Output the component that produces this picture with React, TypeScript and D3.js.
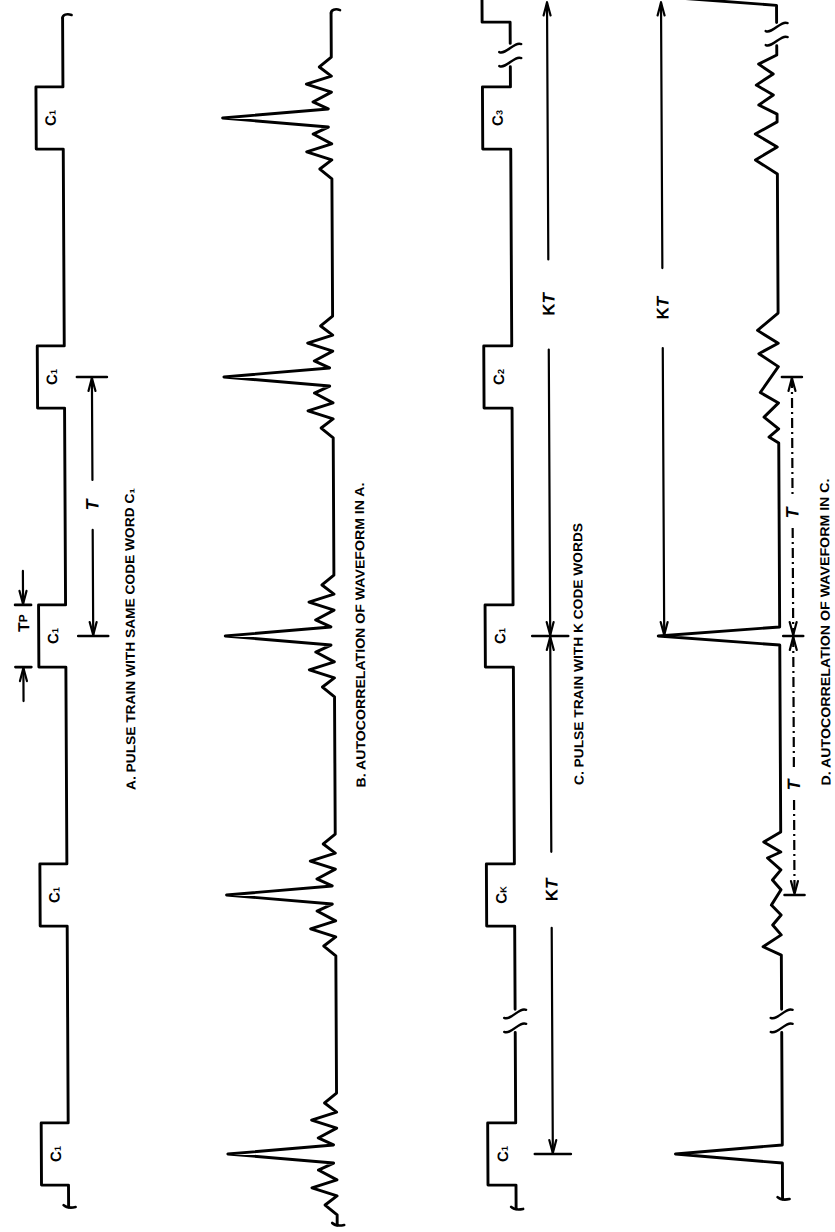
import React, { useEffect, useRef } from 'react';
import * as d3 from 'd3';

// time runs up the page, in units of the code-word period T
// (t = 0 is the word C1 in the middle of trace C)
const pulseTimes = [2, 1, 0, -1, -2];
const pulseWidth = 0.24; // Tp / T
const aSubs = ['1', '1', '1', '1', '1'];
const aSpan = [2.386, -2.205];

// one side of the autocorrelation of a single word: offset from the peak (T), level
const bLobeOffsets = [0.035, 0.062, 0.1, 0.131, 0.162, 0.197, 0.235];
const bLobeLevels = [0.03, 0.17, 0, 0.23, 0, 0.11, 0];
const bSpan = [2.405, -2.274];

const cPulseTimes = [2.49, 2, 1, 0, -1, -2];
const cSubs = ['', '3', '2', '1', 'K', '1'];
const cBreaks = [2.243, -1.486];
const cSpan = [2.62, -2.212];

const dPeakTimes = [2.47, 0, -2];
const dPeakLevels = [1, 1, 0.88];
const dLobeTimes = [2, 1, -1];
const dLobeOffsets = [
  [0.243, 0.208, 0.17, 0.127, 0.089, 0.05, 0.015, -0.015, -0.062, -0.112, -0.162, -0.216],
  [0.247, 0.18, 0.13, 0.09, 0.04, -0.06, -0.1, -0.155, -0.2, -0.232, -0.255],
  [0.243, 0.205, 0.166, 0.143, 0.097, 0.058, 0.02, -0.039, -0.077, -0.116, -0.154, -0.2, -0.232],
];
const dLobeLevels = [
  [0, 0.15, 0.03, 0.17, 0.03, 0.15, 0, 0, 0.18, 0, 0.18, 0],
  [0, 0.17, 0, 0.16, 0, 0.15, 0, 0.12, 0, 0.08, 0],
  [0, 0.14, 0, 0.11, 0, 0.07, 0, 0.08, 0, 0.07, 0, 0.15, 0],
];
const dBreaks = [2.324, -1.486];
const dSpan = [2.6, -2.174];

const captions = [
  'A. PULSE TRAIN WITH SAME CODE WORD C\u2081',
  'B. AUTOCORRELATION OF WAVEFORM IN A.',
  'C. PULSE TRAIN WITH K CODE WORDS',
  'D. AUTOCORRELATION OF WAVEFORM IN C.',
];

const FONT = '"Liberation Sans", Arial, sans-serif';

export default function App() {
  const svgRef = useRef<SVGSVGElement | null>(null);

  useEffect(() => {
    const svg = d3.select(svgRef.current);
    svg.selectAll('*').remove();
    // the scan is a touch skewed, every trace drifts right going down
    const g = svg.append('g').attr('transform', 'skewX(0.29)');

    const y = d3.scaleLinear().domain([-2, 2]).range([1154, 118]);
    const xA = d3.scaleLinear().domain([0, 1]).range([62.5, 35.5]);
    const xB = d3.scaleLinear().domain([0, 1]).range([331, 222]);
    const xC = d3.scaleLinear().domain([0, 1]).range([510, 482]);
    const xD = d3.scaleLinear().domain([0, 1]).range([776.5, 655]);

    const ink = (sel: any, w = 2) =>
      sel.attr('fill', 'none').attr('stroke', '#000').attr('stroke-width', w)
        .attr('stroke-linecap', 'round').attr('stroke-linejoin', 'round');

    const trace = (pts: number[][], xs: any) => {
      const gen = d3.line<number[]>()
        .defined(d => !Number.isNaN(d[1]))
        .x(d => xs(d[1]))
        .y(d => y(d[0]));
      ink(g.append('path').attr('d', gen(pts.sort((a, b) => b[0] - a[0]))), 2.9);
    };

    const pulses = (times: number[], span: number[]) => {
      const h = pulseWidth / 2;
      const pts = [[span[0], 0], [span[1], 0]];
      times.forEach(t => pts.push([t + h, 0], [t + h, 1], [t - h, 1], [t - h, 0]));
      return pts;
    };
    const addBreaks = (pts: number[][], breaks: number[]) =>
      breaks.forEach(t => pts.push([t + 0.045, 0], [t, NaN], [t - 0.045, 0]));

    // A
    trace(pulses(pulseTimes, aSpan), xA);

    // B
    const bPts = [[bSpan[0], 0], [bSpan[1], 0]];
    pulseTimes.forEach(tc => {
      bPts.push([tc, 1]);
      bLobeOffsets.forEach((o, i) => bPts.push([tc + o, bLobeLevels[i]], [tc - o, bLobeLevels[i]]));
    });
    trace(bPts, xB);

    // C
    const cPts = pulses(cPulseTimes, cSpan);
    addBreaks(cPts, cBreaks);
    trace(cPts, xC);

    // D
    const dPts = [[dSpan[0], 0], [dSpan[1], 0]];
    dPeakTimes.forEach((tp, i) => dPts.push([tp + 0.035, 0], [tp, dPeakLevels[i]], [tp - 0.035, 0]));
    dLobeTimes.forEach((tc, j) =>
      dLobeOffsets[j].forEach((o, i) => dPts.push([tc + o, dLobeLevels[j][i]])));
    addBreaks(dPts, dBreaks);
    trace(dPts, xD);

    // break marks
    const breakMark = (x: number, yy: number) =>
      [-7, 7].forEach(dy => ink(g.append('path').attr('d',
        `M${x - 11},${yy + dy + 4} C${x - 4},${yy + dy + 7} ${x + 4},${yy + dy - 7} ${x + 11},${yy + dy - 4}`), 2.4));
    cBreaks.forEach(t => breakMark(xC(0), y(t)));
    dBreaks.forEach(t => breakMark(xD(0), y(t)));

    // loose ends of the traces
    const capTop = (x: number, yy: number) =>
      ink(g.append('path').attr('d', `M${x},${yy} c0,-3 4,-5 9,-3`), 2.6);
    const capBot = (x: number, yy: number) =>
      ink(g.append('path').attr('d', `M${x - 5},${yy - 2} c3,3 7,3 12,2`), 2.6);
    capTop(xA(0), y(aSpan[0])); capBot(xA(0), y(aSpan[1]));
    capTop(xB(0), y(bSpan[0])); capBot(xB(0), y(bSpan[1]));
    capBot(xC(0), y(cSpan[1]));
    capBot(xD(0), y(dSpan[1]));

    // code word labels inside the pulses
    const wordLabel = (x: number, yy: number, sub: string) => {
      const t = g.append('text')
        .attr('transform', `translate(${x},${yy}) rotate(-90)`)
        .attr('text-anchor', 'middle').attr('dominant-baseline', 'central')
        .attr('font-family', FONT).attr('font-weight', 'bold').attr('font-size', 15);
      t.append('tspan').text('C');
      t.append('tspan').attr('font-size', 9).attr('dy', 3).text(sub);
    };
    pulseTimes.forEach((t, i) => wordLabel(xA(0.5), y(t), aSubs[i]));
    cPulseTimes.forEach((t, i) => { if (cSubs[i]) wordLabel(xC(0.5), y(t), cSubs[i]); });

    // dimension lines
    const seg = (x1: number, y1: number, x2: number, y2: number, dash?: string, w = 2.2) =>
      ink(g.append('line').attr('x1', x1).attr('y1', y1).attr('x2', x2).attr('y2', y2), w)
        .attr('stroke-dasharray', dash ?? null).attr('stroke-linecap', dash ? 'butt' : 'round');
    const head = (x: number, tip: number, dir: number) =>
      ink(g.append('path').attr('d',
        `M${x - 3.5},${tip - dir * 13}L${x},${tip}L${x + 3.5},${tip - dir * 13}`), 2.2);
    const dimLabel = (x: number, yy: number, parts: [string, boolean, number][]) => {
      const t = g.append('text')
        .attr('transform', `translate(${x},${yy}) rotate(-90)`)
        .attr('text-anchor', 'middle').attr('dominant-baseline', 'central')
        .attr('font-family', FONT).attr('font-weight', 'bold');
      parts.forEach(([s, it, size]) =>
        t.append('tspan').attr('font-size', size).attr('font-style', it ? 'italic' : 'normal').text(s));
    };
    const dim = (x: number, tTop: number, tBot: number, tLab: number, gap: number,
      parts: [string, boolean, number][], o: { tickTop?: number; tickBot?: number; dash?: string }) => {
      const y1 = y(tTop) + 1, y2 = y(tBot) - 1, yl = y(tLab);
      seg(x, y1, x, yl - gap, o.dash);
      seg(x, yl + gap, x, y2, o.dash);
      head(x, y1, -1); head(x, y2, 1);
      if (o.tickTop) seg(x - o.tickTop, y(tTop), x + o.tickTop, y(tTop), undefined, 2.6);
      if (o.tickBot) seg(x - o.tickBot, y(tBot), x + o.tickBot, y(tBot), undefined, 2.6);
      dimLabel(x, yl, parts);
    };
    const T: [string, boolean, number][] = [['T', true, 18]];
    const KT: [string, boolean, number][] = [['K', false, 17], ['T', true, 17]];

    dim(90, 1, 0, 0.506, 25, T, { tickTop: 15, tickBot: 15 });
    dim(547, 2.45, 0, 1.28, 45, KT, { tickBot: 18 });
    dim(547, 0, -2, -0.98, 38, KT, { tickBot: 18 });
    dim(661, 2.45, 0, 1.266, 40, KT, {});
    dim(790, 1, 0, 0.475, 15, T, { tickTop: 10, tickBot: 10, dash: '10 4 2 4' });
    dim(790, 0, -1, -0.575, 15, T, { tickBot: 10, dash: '10 4 2 4' });

    // Tp: arrows from outside onto the pulse edges
    const h = pulseWidth / 2;
    const yT = y(h), yB = y(-h);
    seg(12, yT, 28, yT, undefined, 2.6); seg(12, yB, 28, yB, undefined, 2.6);
    seg(20, yT - 34, 20, yT - 1); head(20, yT - 1, 1);
    seg(20, yB + 1, 20, yB + 34); head(20, yB + 1, -1);
    dimLabel(20, y(0.05), [['T', false, 16], ['P', false, 12]]);

    // captions, rotated like the drawing
    const capX = [127, 357, 575, 822];
    const capY = [639, 635, 654, 632];
    const capLen = [302, 305, 262, 307];
    captions.forEach((c, i) =>
      g.append('text')
        .attr('transform', `translate(${capX[i]},${capY[i]}) rotate(-90)`)
        .attr('text-anchor', 'middle').attr('dominant-baseline', 'central')
        .attr('font-family', FONT).attr('font-weight', 'bold').attr('font-size', 13)
        .attr('textLength', capLen[i]).attr('lengthAdjust', 'spacingAndGlyphs')
        .text(c));
  }, []);

  return (
    <svg
      ref={svgRef}
      width={835}
      height={1232}
      style={{ position: 'absolute', left: 0, top: 0, display: 'block', background: '#fff' }}
    />
  );
}
